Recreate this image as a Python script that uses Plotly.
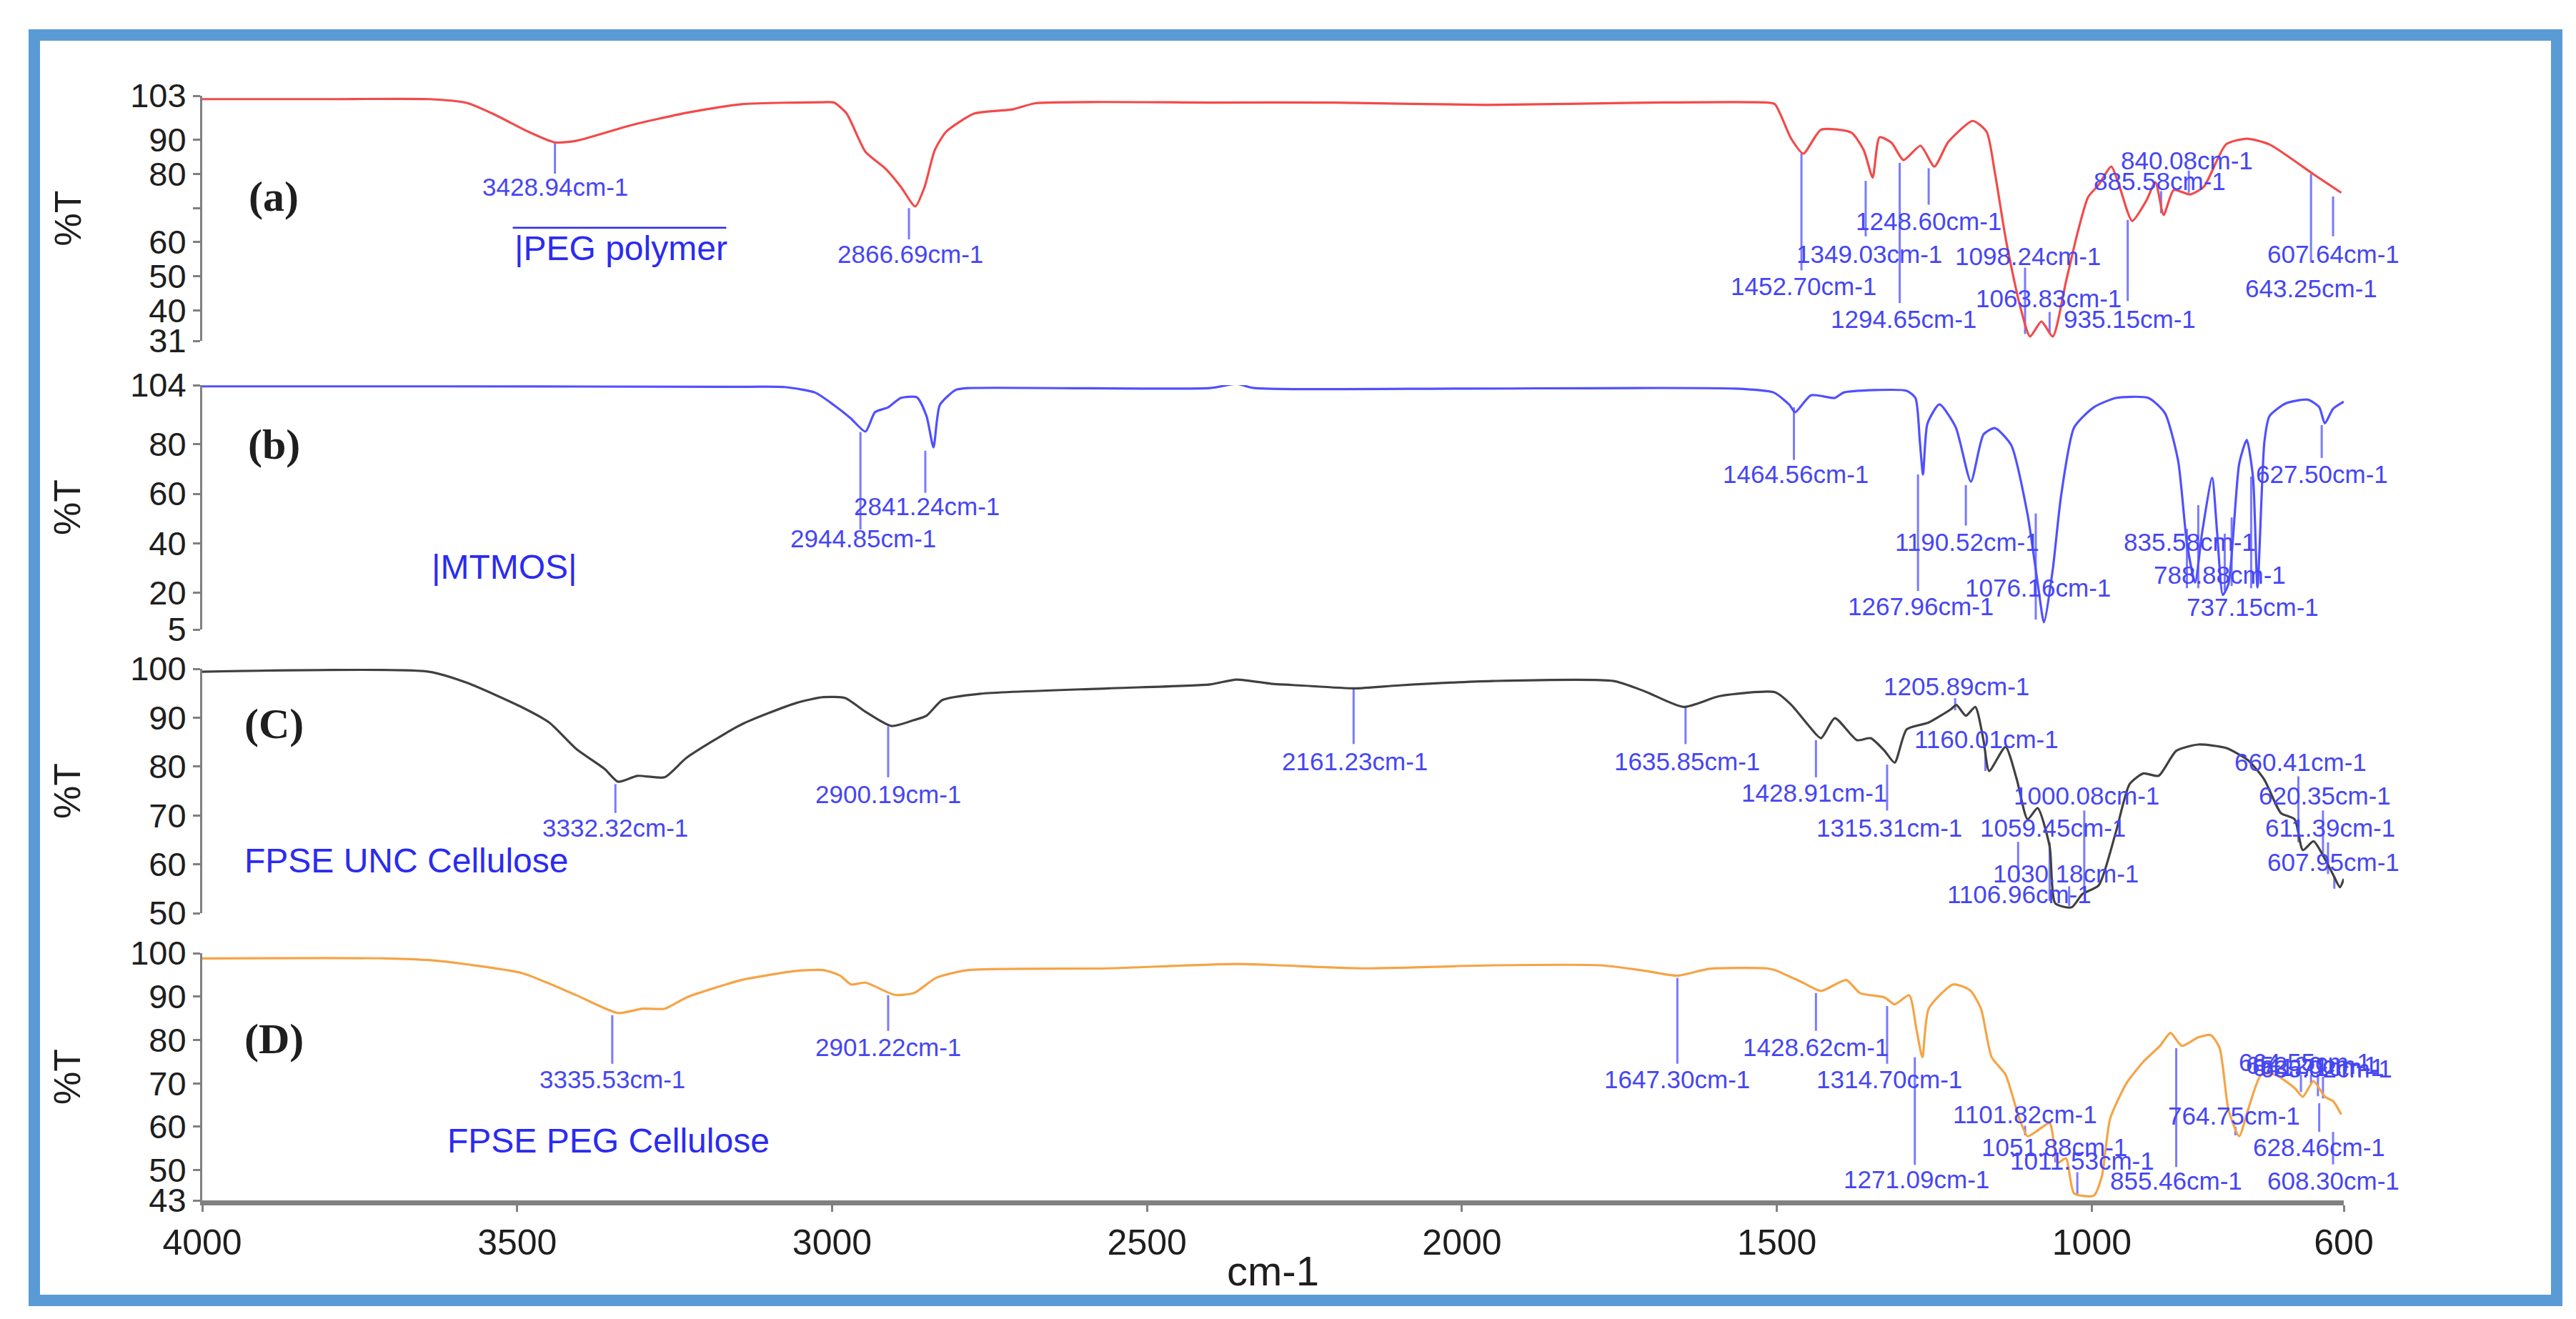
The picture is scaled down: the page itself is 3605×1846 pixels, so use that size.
import plotly.graph_objects as go

# ---------------- spectra (wavenumber cm-1, %T) ----------------
wn_a = [4000, 3800, 3640, 3580, 3535, 3483, 3440, 3405, 3318, 3231, 3144, 3014, 2997, 2977, 2947, 2916, 2891, 2868,
        2853, 2837, 2819, 2774, 2713, 2677, 2400, 2200, 1962, 1700, 1516, 1503, 1477, 1458, 1430, 1382, 1362, 1348,
        1337, 1318, 1299, 1272, 1250, 1228, 1189, 1167, 1154, 1136, 1115, 1098, 1080, 1062, 1041, 1023, 1006, 989,
        969, 956, 936, 914, 899, 886, 870, 844, 822, 787, 754, 718, 647, 604]
t_a = [102, 102, 102, 100.9, 97.4, 92.5, 89.3, 89.8, 94.4, 98, 100.5, 101.1, 101, 97.8, 86.5, 81.7, 76.3, 70.5,
       76.3, 87, 92.4, 97.8, 99, 100.8, 101, 101, 100.3, 101, 101, 100.5, 90.3, 86, 93, 92.2, 87, 79,
       90.8, 89.2, 84.1, 88.3, 82.2, 89.4, 95.6, 92.4, 80.5, 60.3, 42, 32.3, 36.7, 32.3, 48.4, 62.5, 73.2, 76.9,
       82.2, 76.3, 66.2, 72, 77.6, 68, 75.3, 74, 76.3, 88.7, 90.4, 88.7, 79.8, 74.5]

wn_b = [4000, 3600, 3161, 3075, 3027, 2997, 2971, 2947, 2932, 2911, 2891, 2865, 2850, 2839, 2829, 2804, 2784, 2400,
        2358, 2330, 2000, 1567, 1505, 1480, 1471, 1446, 1408, 1394, 1294, 1280, 1273, 1268, 1261, 1242, 1216, 1192,
        1172, 1154, 1128, 1102, 1085, 1076, 1062, 1049, 1028, 997, 962, 910, 884, 863, 849, 836, 825, 809, 801,
        792, 783, 766, 754, 744, 737, 726, 718, 692, 657, 639, 630, 617, 600]
t_b = [103.5, 103.5, 103.3, 103.2, 101, 95.9, 90.7, 85.2, 93, 95, 98.8, 99, 91.4, 78.8, 95.9, 102, 102.8, 102.8,
       104.5, 102.8, 102.6, 102.6, 101, 96, 93, 99.9, 98.8, 101, 101.7, 98.8, 81.1, 67.8, 88.4, 96.2, 86.9, 64.9,
       84, 86.6, 79.7, 51.6, 22, 7.9, 29.3, 58.8, 86.9, 95, 98.8, 98.8, 92.7, 73.4, 40, 24, 44.1, 66.4, 44.1,
       19, 23.5, 72.2, 81.8, 66.4, 22, 81.1, 91.4, 96.6, 98.1, 95.1, 88.5, 94.4, 97.3]

wn_c = [4000, 3640, 3579, 3492, 3449, 3406, 3361, 3340, 3309, 3266, 3231, 3144, 3057, 3014, 2979, 2947, 2906, 2870,
        2850, 2825, 2764, 2561, 2400, 2358, 2300, 2257, 2170, 2100, 1952, 1759, 1708, 1648, 1591, 1503, 1477, 1451,
        1430, 1408, 1373, 1351, 1329, 1313, 1294, 1259, 1224, 1215, 1200, 1185, 1172, 1163, 1137, 1119, 1102, 1086,
        1067, 1058, 1032, 1015, 989, 962, 940, 918, 894, 866, 831, 787, 752, 726, 700, 678, 665, 648, 630, 617,
        606, 600]
t_c = [99.4, 99.4, 97.1, 92.1, 89, 83.6, 79.5, 76.9, 78.1, 77.8, 81.8, 88.6, 93, 94.2, 94, 91.2, 88.3, 89.5,
       90.4, 93.6, 94.9, 96, 96.8, 97.8, 96.9, 96.6, 96, 96.6, 97.5, 97.5, 95.3, 92.2, 94.4, 95.2, 92.6, 88.6,
       85.8, 89.9, 85.4, 85.8, 83.2, 80.8, 87.6, 89, 91.7, 92.6, 90.4, 92.2, 85.4, 79.1, 84, 77.3, 69.2, 71.5,
       63.7, 52, 51.2, 53.9, 55.7, 66.5, 76.4, 78.6, 78.1, 83.2, 84.5, 83.8, 81.3, 77.3, 70.5, 69.2, 62.9, 64.7,
       61.1, 57.9, 55.3, 57]

wn_d = [4000, 3709, 3640, 3579, 3492, 3406, 3340, 3301, 3266, 3231, 3144, 3057, 3014, 2987, 2970, 2947, 2901, 2870,
        2835, 2784, 2561, 2358, 2155, 1952, 1779, 1708, 1658, 1607, 1516, 1503, 1460, 1430, 1390, 1368, 1329, 1313,
        1290, 1278, 1269, 1259, 1220, 1193, 1176, 1159, 1137, 1115, 1102, 1089, 1067, 1054, 1041, 1028, 997, 984,
        971, 945, 918, 892, 875, 857, 831, 811, 797, 783, 766, 752, 731, 709, 678, 665, 648, 630, 617, 604]
t_d = [98.8, 98.8, 98.4, 97.4, 95.4, 90.3, 86.2, 87.2, 87.2, 89.8, 93.8, 95.9, 96.1, 94.8, 92.8, 93.2, 90.4, 90.8,
       94.3, 96.1, 96.5, 97.5, 96.5, 97.2, 97.2, 95.9, 94.8, 96.4, 96.5, 96.1, 93.3, 91.3, 93.8, 90.8, 89.8, 88.2,
       90.3, 82.1, 76, 87.2, 92.8, 91.4, 87.2, 76, 72, 61.8, 57.8, 58.8, 60.8, 51.7, 52.7, 44.6, 44.1, 48.6,
       61.8, 70, 75, 78.6, 81.6, 78.6, 80.6, 81.1, 78.1, 63.9, 57.8, 63.9, 72, 72, 68.9, 66.9, 70.5, 66.9, 65.9, 62.8]

# ---------------- peak labels: text, marker-line wn, line y from, line y to, label wn, label y ----------------
peaks_a = [
    ("3428.94cm-1", 3440, 89.3, 80.1, 3440, 76.2),
    ("2866.69cm-1", 2878, 70.0, 60.8, 2876, 56.5),
    ("1452.70cm-1", 1461, 86.0, 51.7, 1458, 47.0),
    ("1349.03cm-1", 1359, 78.0, 61.7, 1353, 56.6),
    ("1294.65cm-1", 1305, 83.3, 42.1, 1299, 37.5),
    ("1248.60cm-1", 1259, 81.7, 71.0, 1259, 66.2),
    ("1098.24cm-1", 1106, 52.5, 33.0, 1102, 55.8),
    ("1063.83cm-1", 1067, 39.5, 33.5, 1069, 43.4),
    ("935.15cm-1", 943, 66.5, 42.7, 940, 37.5),
    ("885.58cm-1", 890, 68.5, 75.0, 892, 78.0),
    ("840.08cm-1", 846, 74.5, 81.0, 849, 84.1),
    ("643.25cm-1", 652, 80.0, 54.0, 652, 46.5),
    ("607.64cm-1", 617, 73.4, 61.7, 617, 56.6),
]
peaks_b = [
    ("2944.85cm-1", 2955, 85.0, 45.5, 2951, 42.0),
    ("2841.24cm-1", 2852, 77.4, 60.4, 2850, 54.8),
    ("1464.56cm-1", 1473, 95.0, 73.7, 1470, 68.0),
    ("1267.96cm-1", 1276, 67.8, 20.6, 1272, 14.5),
    ("1190.52cm-1", 1200, 63.5, 47.1, 1198, 40.5),
    ("1076.16cm-1", 1089, 52.0, 9.0, 1085, 22.0),
    ("", 849, 45.8, 21.7, 849, 40.5),
    ("835.58cm-1", 831, 55.4, 21.7, 844, 40.5),
    ("788.88cm-1", 789, 43.8, 20.7, 797, 27.1),
    ("", 778, 50.4, 22.6, 778, 27.1),
    ("737.15cm-1", 747, 67.0, 21.7, 745, 14.0),
    ("627.50cm-1", 635, 87.8, 74.5, 635, 68.0),
]
peaks_c = [
    ("3332.32cm-1", 3344, 76.4, 70.5, 3344, 67.5),
    ("2900.19cm-1", 2911, 88.2, 77.8, 2911, 74.4),
    ("2161.23cm-1", 2172, 95.8, 84.6, 2170, 81.1),
    ("1635.85cm-1", 1645, 92.2, 84.6, 1643, 81.1),
    ("1428.91cm-1", 1438, 85.4, 77.8, 1441, 74.6),
    ("1315.31cm-1", 1325, 80.4, 71.0, 1322, 67.5),
    ("1205.89cm-1", 1217, 94.0, 91.5, 1215, 96.4),
    ("1160.01cm-1", 1169, 83.0, 79.1, 1167, 85.6),
    ("1000.08cm-1", 1012, 71.0, 53.9, 1008, 74.0),
    ("1059.45cm-1", 1067, 64.5, 52.5, 1062, 67.4),
    ("1030.18cm-1", 1036, 55.5, 51.5, 1041, 58.1),
    ("1106.96cm-1", 1117, 64.6, 56.5, 1115, 53.9),
    ("660.41cm-1", 672, 78.0, 64.5, 669, 80.9),
    ("620.35cm-1", 633, 71.0, 61.5, 630, 74.0),
    ("611.39cm-1", 625, 64.5, 58.0, 621, 67.4),
    ("607.95cm-1", 615, 57.5, 55.0, 617, 60.5),
]
peaks_d = [
    ("3335.53cm-1", 3349, 85.7, 74.5, 3349, 71.0),
    ("2901.22cm-1", 2911, 90.3, 82.1, 2911, 78.3),
    ("1647.30cm-1", 1658, 94.3, 74.5, 1658, 71.0),
    ("1428.62cm-1", 1438, 90.8, 82.1, 1438, 78.3),
    ("1314.70cm-1", 1325, 87.8, 74.5, 1322, 71.0),
    ("1271.09cm-1", 1281, 76.0, 51.2, 1278, 47.8),
    ("1101.82cm-1", 1106, 60.2, 58.0, 1106, 62.8),
    ("1051.88cm-1", 1058, 53.0, 51.8, 1060, 55.2),
    ("1011.53cm-1", 1023, 49.5, 44.5, 1015, 52.2),
    ("855.46cm-1", 866, 78.1, 50.7, 866, 47.6),
    ("764.75cm-1", 772, 60.0, 58.0, 774, 62.5),
    ("664.55cm-1", 668, 68.0, 72.0, 662, 74.8),
    ("652.20cm-1", 652, 70.0, 72.0, 651, 74.3),
    ("641.71cm-1", 641, 67.0, 72.0, 640, 73.8),
    ("635.02cm-1", 633, 66.5, 71.5, 628, 73.4),
    ("628.46cm-1", 639, 65.4, 58.8, 639, 55.2),
    ("608.30cm-1", 617, 58.8, 51.3, 617, 47.6),
]

x_ticks = [4000, 3500, 3000, 2500, 2000, 1500, 1000, 600]
ticks_a = [31, 40, 50, 60, 70, 80, 90, 103]
ticktext_a = ["31", "40", "50", "60", "", "80", "90", "103"]
ticks_b = [5, 20, 40, 60, 80, 104]
ticks_c = [50, 60, 70, 80, 90, 100]
ticks_d = [43, 50, 60, 70, 80, 90, 100]

panel_tags = ["(a)", "(b)", "(C)", "(D)"]
sample_names = ["|PEG polymer", "|MTMOS|", "FPSE UNC Cellulose", "FPSE PEG Cellulose"]

# ---------------- styling / layout ----------------
W, H = 3605, 1846
LABEL_BLUE = "#4646f2"
LINE_BLUE = "#7a7aff"
GREY = "#808080"
TXT = "#1e1e1e"
SANS = "Liberation Sans, Arial"

xdom = [275 / W, 3272 / W]
def ydom(top_px, bot_px):
    return [1 - bot_px / H, 1 - top_px / H]

panels = [
    dict(wn=wn_a, t=t_a, color="#f24a4a", yaxis="y4", rng=[31, 103], tv=ticks_a, tt=ticktext_a,
         dom=ydom(126, 469), peaks=peaks_a),
    dict(wn=wn_b, t=t_b, color="#5050ff", yaxis="y3", rng=[5, 104], tv=ticks_b, tt=[str(v) for v in ticks_b],
         dom=ydom(531, 873), peaks=peaks_b),
    dict(wn=wn_c, t=t_c, color="#404040", yaxis="y2", rng=[50, 100], tv=ticks_c, tt=[str(v) for v in ticks_c],
         dom=ydom(928, 1270), peaks=peaks_c),
    dict(wn=wn_d, t=t_d, color="#f5a446", yaxis="y", rng=[43, 100], tv=ticks_d, tt=[str(v) for v in ticks_d],
         dom=ydom(1326, 1672), peaks=peaks_d),
]

fig = go.Figure()
annotations = []
layout_axes = {}

tag_y = [73.4, 80, 88.7, 80.2]
name_pos = [(3335, 58.1), (3520, 30.2), (3676, 60.7), (3355, 56.7)]

for i, p in enumerate(panels):
    lx, ly = [], []
    for (txt, wl, y0, y1, tx, ty) in p["peaks"]:
        lx += [wl, wl, None]
        ly += [y0, y1, None]
    fig.add_trace(go.Scatter(x=lx, y=ly, mode="lines", yaxis=p["yaxis"], xaxis="x",
                             line=dict(color=LINE_BLUE, width=3), hoverinfo="skip", showlegend=False))
    fig.add_trace(go.Scatter(x=p["wn"], y=p["t"], mode="lines", yaxis=p["yaxis"], xaxis="x",
                             line=dict(color=p["color"], width=3.2, shape="spline", smoothing=0.6),
                             showlegend=False))
    yref = p["yaxis"]
    for (txt, wl, y0, y1, tx, ty) in p["peaks"]:
        if txt:
            annotations.append(dict(x=tx, y=ty, xref="x", yref=yref, text=txt, showarrow=False,
                                    font=dict(family=SANS, size=35, color=LABEL_BLUE),
                                    xanchor="center", yanchor="middle"))
    annotations.append(dict(x=3886, y=tag_y[i], xref="x", yref=yref, text="<b>%s</b>" % panel_tags[i],
                            showarrow=False, font=dict(family="Liberation Serif, Times New Roman", size=60, color=TXT),
                            xanchor="center", yanchor="middle"))
    annotations.append(dict(x=name_pos[i][0], y=name_pos[i][1], xref="x", yref=yref, text=sample_names[i],
                            showarrow=False, font=dict(family=SANS, size=48, color="#2b2bf0"),
                            xanchor="center", yanchor="middle"))
    annotations.append(dict(x=86 / W, y=(p["dom"][0] + p["dom"][1]) / 2, xref="paper", yref="paper", text="%T",
                            showarrow=False, textangle=-90,
                            font=dict(family=SANS, size=52, color=TXT),
                            xanchor="center", yanchor="middle"))
    key = "yaxis" if yref == "y" else "yaxis" + yref[1:]
    layout_axes[key] = dict(domain=p["dom"], range=p["rng"], anchor="x", tickmode="array",
                            tickvals=p["tv"], ticktext=p["tt"], showline=True, linecolor=GREY, linewidth=3,
                            ticks="outside", ticklen=10, tickwidth=3, tickcolor=GREY, showgrid=False,
                            zeroline=False, automargin=False,
                            tickfont=dict(family=SANS, size=47, color=TXT))

annotations.append(dict(x=(xdom[0] + xdom[1]) / 2, y=1 - 1770 / H, xref="paper", yref="paper", text="cm-1",
                        showarrow=False, font=dict(family=SANS, size=58, color=TXT),
                        xanchor="center", yanchor="middle"))

shapes = [
    dict(type="rect", xref="paper", yref="paper", x0=40 / W, x1=3570 / W, y0=1 - 1812 / H, y1=1 - 41 / H,
         line=dict(color="#5b9bd5", width=16)),
    dict(type="line", xref="x", yref="y4", x0=3507, x1=3168, y0=64.2, y1=64.2,
         line=dict(color="#2b2bf0", width=2.5)),
]

fig.update_layout(
    width=W, height=H, margin=dict(l=0, r=0, t=0, b=0), paper_bgcolor="white", plot_bgcolor="white",
    xaxis=dict(domain=xdom, range=[4000, 600], anchor="y", tickmode="array", tickvals=x_ticks,
               ticktext=[str(v) for v in x_ticks], showline=True, linecolor=GREY, linewidth=7,
               ticks="outside", ticklen=9, tickwidth=3, tickcolor=GREY, showgrid=False, zeroline=False,
               automargin=False, tickfont=dict(family=SANS, size=50, color=TXT)),
    annotations=annotations, shapes=shapes, showlegend=False,
    **layout_axes,
)

fig.write_html("out.html")
